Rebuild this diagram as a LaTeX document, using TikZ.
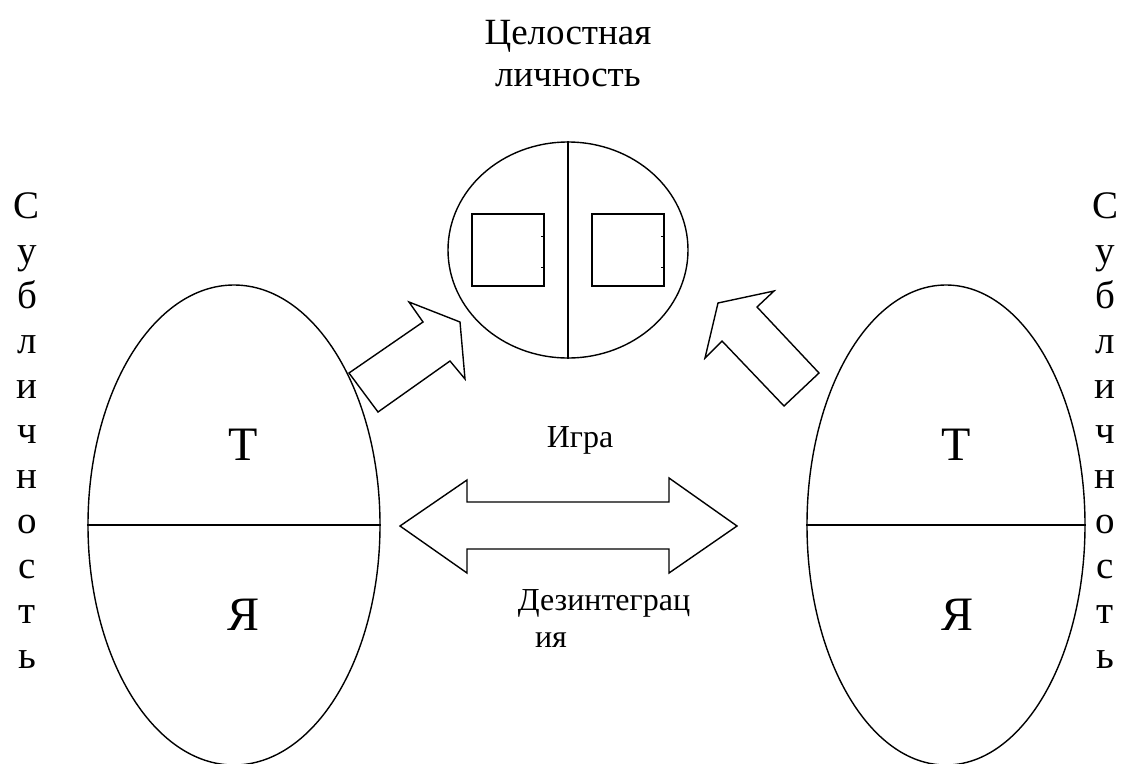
\documentclass[tikz,border=0pt]{standalone}
\usepackage{fontspec}
\setmainfont{Liberation Serif}
\newfontfamily\tnr{Liberation Serif}
\usetikzlibrary{shapes.geometric}
\begin{document}
\begin{tikzpicture}[x=1pt,y=-1pt,line width=1.4pt,line join=miter,
  part/.style={draw,ellipse,inner sep=0pt,minimum height=480pt},
  whole/.style={draw,ellipse,inner sep=0pt,minimum width=240pt,minimum height=216pt},
  cell/.style={draw,rectangle,inner sep=0pt,minimum width=72pt,minimum height=72pt},
  big/.style={font=\tnr\fontsize{48}{48}\selectfont,inner sep=0pt,anchor=base},
  head/.style={font=\tnr\fontsize{37}{37}\selectfont,inner sep=0pt,anchor=base},
  lbl/.style={font=\tnr\fontsize{32}{32}\selectfont,inner sep=0pt,anchor=base},
  vl/.style={font=\tnr\fontsize{39}{39}\selectfont,inner sep=0pt,anchor=base},
  tick/.style={line width=0.7pt}]
\useasboundingbox (0,0) rectangle (1124,763);
\clip (0,0) rectangle (1124,763);

% two subpersonalities and the whole personality
\node[part,minimum width=292pt] (L) at (234,525) {};
\node[part,minimum width=278pt] (R) at (946,525) {};
\draw (L.west) -- (L.east);
\draw (R.west) -- (R.east);
\node[whole] (W) at (568,250) {};
\draw (W.north) -- (W.south);
\node[cell] (s1) at (508,250) {};
\node[cell] (s2) at (628,250) {};
\foreach \s in {s1,s2}{
  \draw[tick] ([yshift=14pt]\s.east) -- ++(-4,0);
  \draw[tick] ([yshift=-17pt]\s.east) -- ++(-4,0);
}

% letters inside the ellipses
\node[big] (LT) at (243,460) {Т};
\node[big] (LJ) at (244,630) {Я};
\node[big] (RT) at (956,460) {Т};
\node[big] (RJ) at (957,630) {Я};

% block arrows towards the whole
\draw (349,373) -- (378,412) -- (450,361) -- (465,379) -- (460,322)
      -- (409,302) -- (423,322) -- cycle;
\draw (819,373) -- (784,406) -- (722,341) -- (705,358) -- (718,303)
      -- (774,291) -- (757,307) -- cycle;

% double block arrow between the parts
\draw (400,526) -- (467,480) -- (467,502) -- (669,502) -- (669,478)
      -- (737,526) -- (669,573) -- (669,549) -- (467,549) -- (467,573) -- cycle;

% labels
\node[head] (title1) at (568,44) {Целостная};
\node[head] (title2) at (568,86) {личность};
\node[lbl] (game) at (580,447) {Игра};
\node[lbl] (dis1) at (604,610) {Дезинтеграц};
\node[lbl] (dis2) at (551,647) {ия};

% vertical captions
\foreach \ch [count=\i from 0] in {С,у,б,л,и,ч,н,о,с,т,ь}{
  \node[vl] (a\i) at (27,218+45*\i) {\ch};
  \node[vl] (b\i) at (1105,218+45*\i) {\ch};
}
\end{tikzpicture}
\end{document}
